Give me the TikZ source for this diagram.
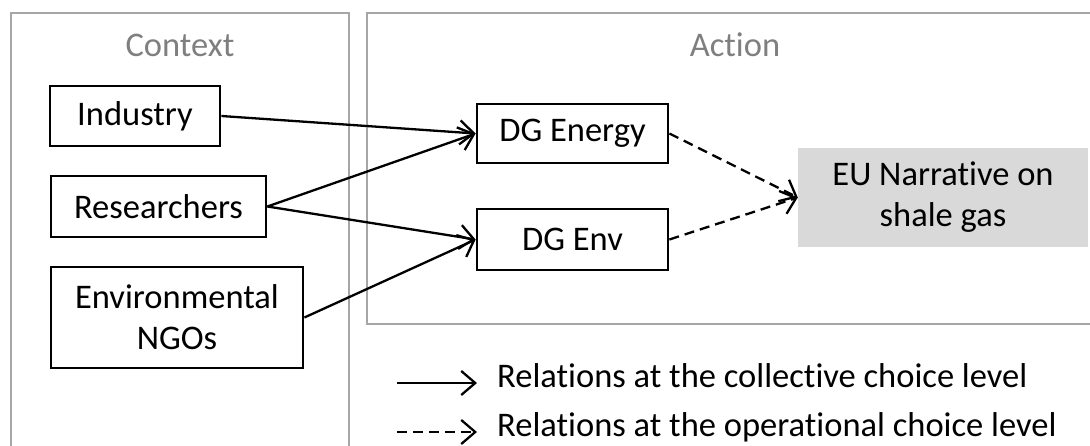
\documentclass[tikz,border=0pt]{standalone}
\usepackage{fontspec}
\setmainfont{Carlito}[Ligatures={NoCommon}]
\usetikzlibrary{arrows.meta}
\definecolor{framegray}{HTML}{A6A6A6}
\definecolor{titlegray}{HTML}{7F7F7F}
\definecolor{narrfill}{HTML}{D9D9D9}
\begin{document}
\begin{tikzpicture}[x=1pt,y=-1pt,
  every node/.style={font=\fontsize{34.5}{41}\selectfont, inner sep=0pt, align=center},
  frame/.style={draw=framegray, line width=2.4pt},
  title/.style={text=titlegray},
  actor/.style={draw=black, line width=2.8pt, fill=white},
  rel/.style={line width=2.3pt, -{Straight Barb[length=14pt,width=24pt,line width=2.3pt]}},
  opr/.style={rel, dash pattern=on 10pt off 6pt},
  legendtext/.style={anchor=west}]
  \useasboundingbox (0,0) rectangle (1090,445);
  % frames of the two arenas
  \begin{scope}
    \clip (0,0) rectangle (1090,445);
    \draw[frame] (11,13) rectangle (349,470);
    \draw[frame] (367,13) rectangle (1110,324);
  \end{scope}
  \node[title] (ctx) at (180,45) {Context};
  \node[title] (act) at (735,45) {Action};
  % actors
  \node[actor, minimum width=170pt, minimum height=60pt] (ind) at (135,116) {Industry};
  \node[actor, minimum width=215pt, minimum height=61pt] (res) at (158.5,206.5) {Researchers};
  \node[actor, minimum width=252pt, minimum height=101pt] (ngo) at (177,317.5) {Environmental\\NGOs};
  \node[actor, minimum width=191pt, minimum height=59pt] (dgen) at (572.5,133.5) {DG Energy};
  \node[actor, minimum width=191pt, minimum height=61pt] (dgenv) at (572.5,239.5) {DG Env};
  \node[fill=narrfill, minimum width=290pt, minimum height=99pt] (eu) at (943,197.5) {EU Narrative on\\shale gas};
  % relations
  \draw[rel] (ind.east) -- (dgen.west);
  \draw[rel] (res.east) -- (dgen.west);
  \draw[rel] (res.east) -- (dgenv.west);
  \draw[rel] (ngo.east) -- (dgenv.west);
  \draw[opr] (dgen.east) -- (eu.west);
  \draw[opr] (dgenv.east) -- (eu.west);
  % legend
  \coordinate (l1a) at (397,383);
  \coordinate (l1b) at (477,383);
  \coordinate (l2a) at (397,432);
  \coordinate (l2b) at (477,432);
  \draw[rel] (l1a) -- (l1b);
  \draw[opr] (l2a) -- (l2b);
  \node[legendtext] (lt1) at (497,376) {Relations at the collective choice level};
  \node[legendtext] (lt2) at (497,427) {Relations at the operational choice level};
\end{tikzpicture}
\end{document}
